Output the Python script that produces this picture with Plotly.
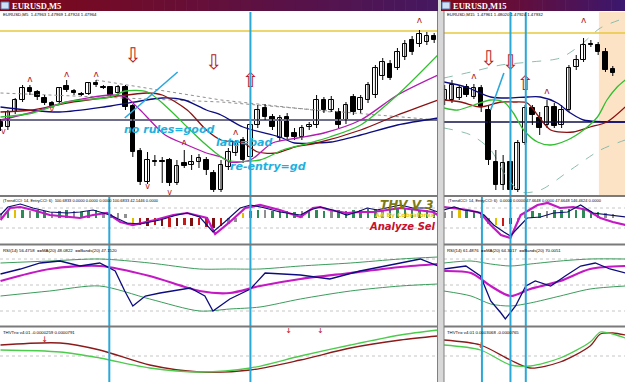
import plotly.graph_objects as go

W, H = 625, 382

# ---------------- DATA ----------------
# Left window EURUSD,M5 candles
L_idx = list(range(60))
L_open = [1.47878,1.47873,1.47888,1.47900,1.47912,1.47908,1.47902,1.47897,1.47898,1.47914,
          1.47909,1.47906,1.47906,1.47917,1.47913,1.47913,1.47907,1.47913,1.47894,1.47849,
          1.47818,1.47839,1.47839,1.47840,1.47817,1.47837,1.47835,1.47838,1.47840,1.47827,
          1.47810,1.47833,1.47847,1.47860,1.47843,1.47875,1.47892,1.47883,1.47862,1.47883,
          1.47867,1.47863,1.47873,1.47875,1.47900,1.47890,1.47888,1.47880,1.47903,1.47890,
          1.47900,1.47905,1.47924,1.47936,1.47932,1.47943,1.47960,1.47956,1.47958,1.47964]
L_high = [1.47881,1.47890,1.47902,1.47915,1.47915,1.47910,1.47905,1.47899,1.47913,1.47920,
          1.47911,1.47908,1.47918,1.47920,1.47915,1.47914,1.47915,1.47915,1.47896,1.47852,
          1.47848,1.47845,1.47843,1.47842,1.47840,1.47850,1.47845,1.47846,1.47843,1.47830,
          1.47840,1.47852,1.47860,1.47863,1.47878,1.47895,1.47896,1.47886,1.47885,1.47887,
          1.47872,1.47875,1.47878,1.47905,1.47903,1.47904,1.47892,1.47898,1.47906,1.47905,
          1.47918,1.47935,1.47942,1.47940,1.47952,1.47960,1.47964,1.47970,1.47968,1.47967]
L_low = [1.47869,1.47870,1.47886,1.47898,1.47905,1.47900,1.47895,1.47892,1.47896,1.47908,
         1.47905,1.47904,1.47905,1.47913,1.47911,1.47903,1.47905,1.47890,1.47843,1.47815,
         1.47816,1.47834,1.47817,1.47814,1.47815,1.47832,1.47830,1.47832,1.47825,1.47808,
         1.47808,1.47830,1.47844,1.47837,1.47840,1.47872,1.47880,1.47870,1.47859,1.47860,
         1.47860,1.47860,1.47870,1.47872,1.47887,1.47888,1.47872,1.47876,1.47885,1.47887,
         1.47897,1.47902,1.47920,1.47920,1.47930,1.47940,1.47945,1.47953,1.47955,1.47957]
L_close = [1.47873,1.47888,1.47900,1.47912,1.47908,1.47903,1.47897,1.47894,1.47912,1.47910,
           1.47907,1.47905,1.47917,1.47915,1.47912,1.47905,1.47913,1.47893,1.47848,1.47818,
           1.47840,1.47838,1.47838,1.47817,1.47834,1.47834,1.47838,1.47842,1.47830,1.47810,
           1.47835,1.47848,1.47857,1.47840,1.47875,1.47890,1.47883,1.47873,1.47882,1.47863,
           1.47863,1.47872,1.47875,1.47900,1.47890,1.47900,1.47875,1.47895,1.47888,1.47902,
           1.47915,1.47932,1.47938,1.47922,1.47948,1.47956,1.47948,1.47966,1.47964,1.47960]

# Left moving averages (candle index, price)
L_navy_x = [0, 8, 15, 22, 25, 28, 30, 33, 38, 40, 43, 45, 49, 54, 59.5]
L_navy_y = [1.47893,1.47888,1.47894,1.47902,1.47900,1.47890,1.47885,1.47873,1.47863,1.47857,
            1.47857,1.47858,1.47865,1.47875,1.47882]
L_red_x = [0, 4.4, 9, 15, 20, 22, 25.4, 28, 30, 33, 35, 37.6, 40, 43, 49, 54, 59.5]
L_red_y = [1.47888,1.47890,1.47897,1.47903,1.47907,1.47905,1.47890,1.47870,1.47860,1.47857,
           1.47848,1.47847,1.47853,1.47857,1.47870,1.47885,1.47900]
L_mag_x = [0, 4.4, 9, 15, 17, 19, 22.4, 25.4, 28, 30, 31.2, 34, 37, 40.4, 44, 49, 54, 59.5]
L_mag_y = [1.47880,1.47888,1.47898,1.47905,1.47903,1.47890,1.47865,1.47855,1.47847,1.47843,
           1.47838,1.47840,1.47857,1.47862,1.47867,1.47880,1.47905,1.47925]
L_grn_x = [0, 4.4, 9, 15, 17, 20, 22.6, 25.4, 28, 30.8, 35.3, 38.4, 42, 44.8, 49, 54, 59.5]
L_grn_y = [1.47883,1.47887,1.47898,1.47903,1.47909,1.47908,1.47893,1.47873,1.47855,1.47840,
           1.47840,1.47850,1.47857,1.47863,1.47875,1.47905,1.47945]
L_dot1_x = [0, 30, 59.5]
L_dot1_y = [1.47907, 1.47898, 1.47880]
L_dot2_x = [13, 30, 45]
L_dot2_y = [1.47920, 1.47900, 1.47888]
L_level_yellow = 1.47969
L_level_gray = 1.47880

# Right window EURUSD,M15 candles
R_idx = list(range(-1, 23))
R_open = [1.47900,1.47900,1.47902,1.47913,1.47903,1.47912,1.47890,1.47838,1.47815,1.47838,
          1.47810,1.47857,1.47892,1.47882,1.47875,1.47893,1.47875,1.47890,1.47933,1.47940,
          1.47956,1.47955,1.47948,1.47931]
R_high = [1.47915,1.47920,1.47915,1.47916,1.47916,1.47915,1.47895,1.47850,1.47845,1.47845,
          1.47860,1.47895,1.47895,1.47888,1.47900,1.47897,1.47895,1.47935,1.47945,1.47962,
          1.47960,1.47958,1.47952,1.47934]
R_low = [1.47895,1.47897,1.47900,1.47903,1.47901,1.47888,1.47835,1.47810,1.47810,1.47807,
         1.47808,1.47855,1.47875,1.47865,1.47872,1.47872,1.47872,1.47888,1.47930,1.47938,
         1.47953,1.47945,1.47928,1.47924]
R_close = [1.47910,1.47915,1.47912,1.47905,1.47912,1.47893,1.47840,1.47815,1.47837,1.47810,
           1.47857,1.47892,1.47885,1.47872,1.47893,1.47874,1.47890,1.47932,1.47940,1.47955,
           1.47955,1.47948,1.47930,1.47927]
R_navy_x = [-1.1, 1.9, 5.3, 7.6, 10.3, 12.1, 14.4, 16.2, 18, 23.7]
R_navy_y = [1.47918,1.47913,1.47903,1.47902,1.47903,1.47903,1.47897,1.47887,1.47880,1.47878]
R_red_x = [-1.1, 1.2, 3.9, 6.7, 8.4, 10.3, 11.7, 13.5, 16.6, 18.9, 21.2, 23.7]
R_red_y = [1.47900,1.47898,1.47893,1.47898,1.47898,1.47897,1.47885,1.47870,1.47868,1.47873,
           1.47878,1.47893]
R_grn_x = [-1.1, 0.8, 3, 5.3, 7.1, 8.4, 9.8, 11.7, 13.5, 15.8, 18, 19.9, 21.2, 22.6, 23.7]
R_grn_y = [1.47892,1.47890,1.47895,1.47900,1.47898,1.47887,1.47870,1.47858,1.47855,1.47860,
           1.47870,1.47883,1.47900,1.47913,1.47920]
R_bup_x = [-1.1, 2.6, 6.7, 10.7, 14.8, 17.6, 20.3, 23.7]
R_bup_y = [1.47922, 1.47928, 1.47935, 1.47938, 1.47942, 1.47955, 1.47972, 1.47982]
R_bdn_x = [-1.1, 2.6, 5.3, 7.3, 9.4, 12.1, 16.2, 20.3, 23.7]
R_bdn_y = [1.47872, 1.47865, 1.47850, 1.47825, 1.47808, 1.47810, 1.47830, 1.47850, 1.47860]
R_level_yellow = 1.47967
R_level_navy = 1.47878

# signal lines (candle index)
L_sig_main = [29, 34]
L_sig_sub = [14.8]
R_sig_main = [8, 10.1]
R_sig_sub = [4.1]

# ---- CCI panels ----
L_cci_nx = [0, 1.0, 2.7, 4.4, 6.7, 9.1, 10.8, 12.6, 14.9, 17.2, 19, 21.7, 24, 25.4, 27.1, 28.9, 30.5,
            32.6, 34, 36, 38, 40.8, 42.1, 43.5, 45.2, 47.1, 48.5, 49.9, 51.2, 53, 54.4, 56.1, 58, 59.5]
L_cci_navy = [30, 110, 140, 100, 60, 50, 60, 80, 30, -50, -60, -20, 30, 50, 10, -140, -40,
              100, 130, 100, 60, 30, 80, 110, 80, 30, 60, 100, 80, 110, 130, 100, 100, 60]
L_cci_mx = [0, 1.3, 2.7, 4.4, 6.7, 9.1, 10.8, 12.6, 14.5, 16.3, 18, 21, 23.5, 25.4, 28.1, 29.2, 31.2,
            33.3, 35.3, 38, 40.8, 42.5, 43.5, 44.8, 47.1, 48.9, 50.7, 52.6, 54.4, 56.7, 58.8, 59.5]
L_cci_mag = [-20, 100, 110, 80, 30, 10, 0, 30, 50, -40, -70, -20, 30, 50, 0, -160, -40,
             100, 130, 80, 10, 100, 110, 80, 50, 60, 60, 80, 100, 80, 60, 30]
L_cci_bar = [50, 70, 80, 80, 70, 80, 70, 60, 70, 80, 70, 60, 70, 80, 60, 40, 50, 40, -60, -70,
             -80, -70, -80, -90, -80, -70, -80, -70, -90, -100, -80, -60, -40, 50, 70, 80, 80, 70, 80, 70,
             60, 70, 80, 80, 70, 70, 80, 70, 80, 80, 90, 90, 80, 80, 90, 90, 80, 80, 80, 70]
L_cci_col = ['#909090','#2e8b57','#e0c000','#2e8b57','#909090','#2e8b57','#2e8b57','#909090','#2e8b57','#2e8b57',
             '#909090','#2e8b57','#2e8b57','#2e8b57','#909090','#2e8b57','#909090','#909090','#e0c000','#c81818',
             '#7a1010','#c81818','#7a1010','#c81818','#7a1010','#c81818','#7a1010','#c81818','#c81818','#7a1010',
             '#c81818','#909090','#909090','#e0c000','#2e8b57','#2e8b57','#909090','#2e8b57','#2e8b57','#2e8b57',
             '#2e8b57','#909090','#2e8b57','#2e8b57','#2e8b57','#909090','#2e8b57','#2e8b57','#2e8b57','#2e8b57',
             '#2e8b57','#2e8b57','#909090','#2e8b57','#2e8b57','#2e8b57','#2e8b57','#2e8b57','#2e8b57','#2e8b57']
R_cci_nx = [-1.1, 0.3, 1.6, 3.5, 4.4, 5.7, 7.1, 8, 9, 10.3, 12.1, 13.9, 15.8, 17.6, 19.3, 21.2, 23.7]
R_cci_navy = [80, 110, 80, 60, 30, -70, -140, -180, -100, 0, 10, 50, 60, 130, 50, 30, 10]
R_cci_mx = [-1.1, 0.3, 2.2, 3.9, 5.3, 6.7, 8, 9.4, 11.7, 13.1, 14.8, 16.6, 18.5, 20.3, 22, 23.7]
R_cci_mag = [110, 100, 80, 50, -70, -170, -200, 30, 130, 150, 100, 110, 80, 0, -40, -70]
R_cci_bar = [60, 70, 80, 80, 70, 40, -60, -70, -80, -60, -40, 60, 70, 50, 70, 80, 80, 90, 80, 80, 70, 60, 50, 40]
R_cci_col = ['#909090','#909090','#e0c000','#2e8b57','#2e8b57','#909090','#909090','#e0c000','#c81818','#7a1010',
             '#909090','#909090','#2e8b57','#2e8b57','#909090','#2e8b57','#2e8b57','#2e8b57','#2e8b57','#2e8b57',
             '#2e8b57','#2e8b57','#909090','#909090']

# ---- RSI panels ----
L_rsi_x = [0, 2.7, 5.4, 8.1, 10.8, 13.5, 15.6, 16.9, 18, 19.7, 21.7, 25.8, 27.8, 28.9, 31.2, 34, 36,
           40.8, 44.8, 48.9, 54.4, 57.1, 59.5]
L_rsi = [62, 67, 73, 75, 70, 73, 65, 45, 30, 40, 43, 48, 40, 25, 37, 47, 63, 61, 57, 65, 73, 77, 70]
L_rsi_ma_x = [0, 6.7, 13.5, 20.3, 27.1, 31.2, 35.3, 40.8, 47.6, 54.4, 59.5]
L_rsi_ma = [55, 67, 70, 60, 45, 43, 50, 57, 63, 69, 72]
L_band_up = [73, 75, 77, 73, 67, 67, 67, 70, 73, 77, 79]
L_band_dn = [40, 45, 50, 37, 25, 27, 29, 37, 45, 50, 52]
R_rsi_x = [-1.1, 1.9, 3.9, 5.3, 6.7, 7.3, 8.7, 10.1, 11.4, 13.5, 15.5, 17.6, 19.6, 21.6, 23.7]
R_rsi = [67, 70, 60, 35, 23, 17, 30, 50, 55, 50, 60, 70, 73, 67, 63]
R_rsi_ma_x = [-1.1, 2.6, 5.3, 8, 10.7, 14.8, 18.9, 23.7]
R_rsi_ma = [65, 63, 50, 40, 47, 55, 67, 70]
R_band_up = [73, 75, 72, 70, 72, 75, 77, 77]
R_band_dn = [45, 40, 32, 30, 33, 40, 47, 50]
RSI_LEVELS = [77, 51, 25]

# ---- THV Trix panels ----
L_thv_x = [0, 8.1, 13.5, 20.3, 27.1, 34, 40.8, 47.6, 54.4, 59.5]
L_thv_red = [0.00011, 0.00013, 0.00006, -0.00009, -0.00016, -0.00014, -0.00004, 0.00008, 0.00016, 0.00020]
L_thv_grn = [0.00006, 0.00004, -0.00002, -0.00012, -0.00016, -0.00012, 0.00000, 0.00011, 0.00021, 0.00026]
L_thv_arrow_x = [6, 39.2, 43.5]
L_thv_arrow_y = [0.00016, 0.00025, 0.00025]
R_thv_x = [-1.1, 3.9, 8, 10.7, 14.8, 18.9, 20.3, 22, 23.7]
R_thv_red = [0.00016, 0.00011, -0.00004, -0.00012, -0.00006, 0.00010, 0.00022, 0.00023, 0.00021]
R_thv_grn = [0.00011, 0.00006, -0.00009, -0.00010, -0.00002, 0.00014, 0.00024, 0.00022, 0.00018]
R_thv_arrow_x = [4]
R_thv_arrow_y = [0.00010]

# ---------------- FIGURE ----------------
fig = go.Figure()

LX = [0, 438 / W]
RX = [444 / W, 1.0]
def ydom(top, bot):
    return [1 - bot / H, 1 - top / H]
PANELS = {'main': ydom(12, 195), 'cci': ydom(197, 243), 'rsi': ydom(246, 325), 'thv': ydom(328, 382)}

L_XR = [-0.07, 59.52]
R_XR = [-1.09, 23.67]
PRICE_R = [1.47805, 1.47988]
CCI_R = [-250, 210]
RSI_R = [11, 90]
THV_R = [-0.00026, 0.00028]

axes = [
    (1, LX, 'main', L_XR, PRICE_R), (2, LX, 'cci', L_XR, CCI_R), (3, LX, 'rsi', L_XR, RSI_R), (4, LX, 'thv', L_XR, THV_R),
    (5, RX, 'main', R_XR, PRICE_R), (6, RX, 'cci', R_XR, CCI_R), (7, RX, 'rsi', R_XR, RSI_R), (8, RX, 'thv', R_XR, THV_R),
]
lay = {}
for n, xd, p, xr, yr in axes:
    s = '' if n == 1 else str(n)
    lay['xaxis' + s] = dict(domain=xd, range=xr, anchor='y' + s, showgrid=False, zeroline=False,
                            showticklabels=False, ticks='', showline=False, fixedrange=True)
    lay['yaxis' + s] = dict(domain=PANELS[p], range=yr, anchor='x' + s, showgrid=False, zeroline=False,
                            showticklabels=False, ticks='', showline=False, fixedrange=True)

def xy(n):
    s = '' if n == 1 else str(n)
    return 'x' + s, 'y' + s

def line(n, x, y, color, width=1.2, dash='solid', shape='spline'):
    xa, ya = xy(n)
    fig.add_trace(go.Scatter(x=x, y=y, xaxis=xa, yaxis=ya, mode='lines', hoverinfo='skip',
                             line=dict(color=color, width=width, dash=dash, shape=shape, smoothing=0.8),
                             showlegend=False))

def hline(n, xr, val, color, width=1, dash='solid'):
    line(n, xr, [val, val], color, width, dash, 'linear')

def txt(n, x, y, t, size, color, family='DejaVu Sans'):
    xa, ya = xy(n)
    fig.add_trace(go.Scatter(x=x, y=y, xaxis=xa, yaxis=ya, mode='text', text=[t] * len(x),
                             textfont=dict(size=size, color=color, family=family),
                             hoverinfo='skip', showlegend=False))

def candles(n, idx, o, h, l, c):
    xa, ya = xy(n)
    wx, wy = [], []
    for i, hi, lo in zip(idx, h, l):
        wx += [i, i, None]
        wy += [lo, hi, None]
    fig.add_trace(go.Scatter(x=wx, y=wy, xaxis=xa, yaxis=ya, mode='lines', hoverinfo='skip',
                             line=dict(color='#000000', width=1), showlegend=False))
    base = [min(a, b) for a, b in zip(o, c)]
    hgt = [max(abs(a - b), 0.000006) for a, b in zip(o, c)]
    cols = ['#ffffff' if b >= a else '#000000' for a, b in zip(o, c)]
    fig.add_trace(go.Bar(x=idx, y=hgt, base=base, xaxis=xa, yaxis=ya, width=0.62, hoverinfo='skip',
                         marker=dict(color=cols, line=dict(color='#000000', width=1)), showlegend=False))

# --- main panels ---
fig.add_shape(type='rect', xref='x5', yref='y5', x0=20.1, x1=R_XR[1], y0=PRICE_R[0], y1=PRICE_R[1],
              fillcolor='#fde3c6', line=dict(width=0), layer='below')

hline(1, L_XR, L_level_yellow, '#e6c83c', 1.6)
hline(1, L_XR, L_level_gray, '#6e6e8a', 2.2)
hline(5, R_XR, R_level_yellow, '#e6c83c', 1.6)
hline(5, R_XR, R_level_navy, '#10104a', 1.3)

line(1, L_dot1_x, L_dot1_y, '#909090', 1, 'dot', 'linear')
line(1, L_dot2_x, L_dot2_y, '#909090', 1, 'dot', 'linear')
line(5, R_bup_x, R_bup_y, '#7fb6a6', 0.9, 'dash')
line(5, R_bdn_x, R_bdn_y, '#7fb6a6', 0.9, 'dash')

candles(1, L_idx, L_open, L_high, L_low, L_close)
candles(5, R_idx, R_open, R_high, R_low, R_close)

line(1, L_navy_x, L_navy_y, '#0c0c80', 1.3)
line(1, L_red_x, L_red_y, '#8b1010', 1.3)
line(1, L_mag_x, L_mag_y, '#b01cb0', 1.3)
line(1, L_grn_x, L_grn_y, '#2fbf2f', 1.3)
line(5, R_navy_x, R_navy_y, '#0c0c80', 1.3)
line(5, R_red_x, R_red_y, '#8b1010', 1.3)
line(5, R_grn_x, R_grn_y, '#2fbf2f', 1.3)

# cyan diagonal trend lines
line(1, [16.9, 24.1], [1.47882, 1.47928], '#29a9dd', 1.6, 'solid', 'linear')
line(5, [5.3, 7.1], [1.47890, 1.47927], '#29a9dd', 1.6, 'solid', 'linear')

# hollow arrows and fractals
txt(1, [18, 29], [1.47943, 1.47936], '⇩', 20, '#b22222')
txt(1, [34], [1.47918], '⇧', 20, '#b22222')
txt(5, [5, 8], [1.47940, 1.47936], '⇩', 20, '#b22222')
txt(5, [10], [1.47915], '⇧', 20, '#b22222')
txt(1, [4, 9, 13, 25, 32, 57], [1.47920, 1.47925, 1.47925, 1.47857, 1.47867, 1.47979], 'ʌ', 9, '#b01818')
txt(1, [0.4, 7, 20, 23], [1.47868, 1.47890, 1.47813, 1.47807], 'v', 8, '#b01818')
txt(5, [3, 13, 18], [1.47923, 1.47908, 1.47979], 'ʌ', 9, '#b01818')

# --- CCI panels ---
for n, xr, xs, bars, cols, nx, nv, mx, mg in [
        (2, L_XR, L_idx, L_cci_bar, L_cci_col, L_cci_nx, L_cci_navy, L_cci_mx, L_cci_mag),
        (6, R_XR, R_idx, R_cci_bar, R_cci_col, R_cci_nx, R_cci_navy, R_cci_mx, R_cci_mag)]:
    xa, ya = xy(n)
    hline(n, xr, 100, '#b8b8b8', 0.8, 'dot')
    hline(n, xr, -100, '#b8b8b8', 0.8, 'dot')
    fig.add_trace(go.Bar(x=xs, y=bars, xaxis=xa, yaxis=ya, marker=dict(color=cols, line=dict(width=0)),
                         width=0.34, hoverinfo='skip', showlegend=False))
    line(n, mx, mg, '#c418c4', 2.2, 'solid', 'linear')
    line(n, nx, nv, '#0c0c70', 1.2, 'solid', 'linear')

# --- RSI panels ---
for n, xr, rx, rv, mx, mv, bu, bd in [
        (3, L_XR, L_rsi_x, L_rsi, L_rsi_ma_x, L_rsi_ma, L_band_up, L_band_dn),
        (7, R_XR, R_rsi_x, R_rsi, R_rsi_ma_x, R_rsi_ma, R_band_up, R_band_dn)]:
    for lv in RSI_LEVELS:
        hline(n, xr, lv, '#b8b8b8', 0.8, 'dot')
    line(n, mx, bu, '#3c9c5c', 1)
    line(n, mx, bd, '#3c9c5c', 1)
    line(n, mx, mv, '#c418c4', 2.2)
    line(n, rx, rv, '#0c0c80', 1.3, 'solid', 'linear')

# --- THV panels ---
for n, xr, tx, tr, tg in [(4, L_XR, L_thv_x, L_thv_red, L_thv_grn), (8, R_XR, R_thv_x, R_thv_red, R_thv_grn)]:
    hline(n, xr, 0, '#b8b8b8', 0.8, 'dot')
    line(n, tx, tr, '#8b1a1a', 1.3)
    line(n, tx, tg, '#4ccc4c', 1.3)
txt(4, L_thv_arrow_x, L_thv_arrow_y, '↓', 8, '#c01010')
txt(8, R_thv_arrow_x, R_thv_arrow_y, '↓', 8, '#c01010')

# signal verticals (cyan)
shapes = []
for xr_, sig, full in [('x', L_sig_main, True), ('x', L_sig_sub, False), ('x5', R_sig_main, True), ('x5', R_sig_sub, False)]:
    for s in sig:
        shapes.append(dict(type='line', xref=xr_, yref='paper', x0=s, x1=s,
                           y0=0, y1=1 - (12 / H if full else 196 / H),
                           line=dict(color='#2aa8d8', width=2), layer='above'))

# panel separators
for x0, x1 in [(0, 438), (444, 625)]:
    for yy in [196, 244.5, 326.5]:
        shapes.append(dict(type='line', xref='paper', yref='paper', x0=x0 / W, x1=x1 / W,
                           y0=1 - yy / H, y1=1 - yy / H, line=dict(color='#7a7a7a', width=2)))

# window frames
shapes.append(dict(type='rect', xref='paper', yref='paper', x0=438 / W, x1=444 / W, y0=0, y1=1,
                   fillcolor='#d8d8d8', line=dict(width=0)))
for xx in [437.5, 444]:
    shapes.append(dict(type='line', xref='paper', yref='paper', x0=xx / W, x1=xx / W, y0=0, y1=1 - 11 / H,
                       line=dict(color='#808080', width=1)))

# title bars with gradient
def grad(x0, x1, c0, c1, steps=40):
    for k in range(steps):
        t = k / (steps - 1)
        col = tuple(int(c0[i] + (c1[i] - c0[i]) * t) for i in range(3))
        a = x0 + (x1 - x0) * k / steps
        b = x0 + (x1 - x0) * (k + 1) / steps + 0.6
        shapes.append(dict(type='rect', xref='paper', yref='paper', x0=a / W, x1=min(b, x1) / W,
                           y0=1 - 11 / H, y1=1, fillcolor='rgb(%d,%d,%d)' % col, line=dict(width=0)))
grad(0, 438, (128, 8, 24), (70, 24, 96))
grad(441, 625, (128, 8, 24), (60, 24, 110))
for ix in [1, 442]:
    shapes.append(dict(type='rect', xref='paper', yref='paper', x0=ix / W, x1=(ix + 8) / W,
                       y0=1 - 9 / H, y1=1 - 2 / H, fillcolor='#cfe0f4', line=dict(color='#5a7ab0', width=1)))

annots = []
def note(xp, yp, text, size, color, family='Liberation Sans', bold=False, italic=False, xanchor='left'):
    t = text
    if bold:
        t = '<b>' + t + '</b>'
    if italic:
        t = '<i>' + t + '</i>'
    annots.append(dict(xref='paper', yref='paper', x=xp / W, y=1 - yp / H, text=t, showarrow=False,
                       xanchor=xanchor, yanchor='middle', font=dict(size=size, color=color, family=family)))

note(10, 5.5, 'EURUSD,M5', 8.5, '#ffffff', 'Liberation Serif', bold=True)
note(451, 5.5, 'EURUSD,M15', 8.5, '#ffffff', 'Liberation Serif', bold=True)
note(1, 15, 'EURUSD,M5  1.47963 1.47969 1.47924 1.47964', 4.3, '#000000')
note(445, 15, 'EURUSD,M15  1.47961 1.48020 1.47924 1.47932', 4.3, '#000000')
note(1, 200, '(TrendCCI: 14, EntryCCI: 6)  100.6833 0.0000 0.0000 0.0000 100.6833 42.1446 0.0000', 4.0, '#000000')
note(446, 200, '(TrendCCI: 14, EntryCCI: 6)  0.0000 0.0000 47.6648 0.0000 47.6648 146.4624 0.0000', 4.0, '#000000')
note(1, 250, 'RSI(14) 56.4758  ==MA(20) 48.0822  ==Bands(20) 47.1520', 4.3, '#000000')
note(445, 250, 'RSI(14) 61.4876  ==MA(20) 64.3017  ==Bands(20) 70.0051', 4.3, '#000000')
note(1, 332, 'THVTrix v4.01 -0.0000259 0.0000791', 4.3, '#000000')
note(445, 332, 'THVTrix v4.01 0.0003068 -0.0000765', 4.3, '#000000')

note(122, 129, 'no rules=good', 11, '#1fb0e0', 'DejaVu Sans', bold=True, italic=True)
note(214, 142, 'late=bad', 11, '#1fb0e0', 'DejaVu Sans', bold=True, italic=True)
note(228, 166, 're-entry=gd', 11, '#1fb0e0', 'DejaVu Sans', bold=True, italic=True)

note(436, 205, 'THV V 3', 12, '#7d7a10', 'DejaVu Sans', bold=True, italic=True, xanchor='right')
note(437, 215, 'AA By Cobraforex', 6, '#e8d020', 'DejaVu Sans', bold=True, xanchor='right')
note(438, 226, 'Analyze Sel', 10, '#c8102e', 'DejaVu Sans', bold=True, italic=True, xanchor='right')

fig.update_layout(width=W, height=H, margin=dict(l=0, r=0, t=0, b=0), paper_bgcolor='#ffffff',
                  plot_bgcolor='#ffffff', shapes=shapes, annotations=annots, showlegend=False,
                  barmode='overlay', bargap=0, **lay)
fig.write_html('out.html')
